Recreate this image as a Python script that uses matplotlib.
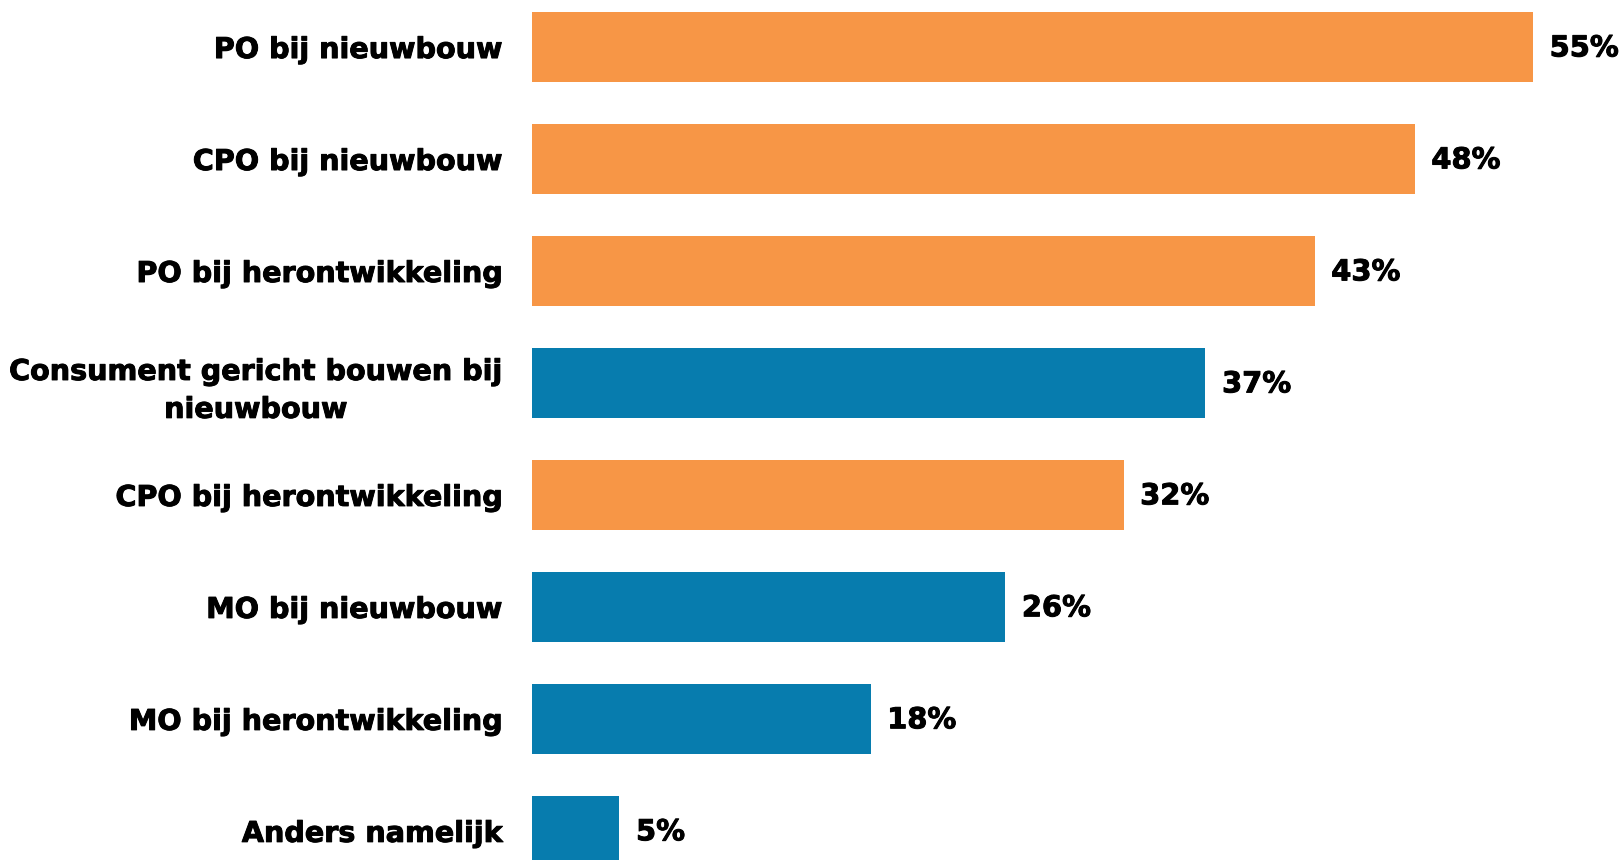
import matplotlib
matplotlib.use('Agg')
import matplotlib.pyplot as plt
import matplotlib.patheffects as pe

categories = [
    "PO bij nieuwbouw",
    "CPO bij nieuwbouw",
    "PO bij herontwikkeling",
    "Consument gericht bouwen bij\nnieuwbouw",
    "CPO bij herontwikkeling",
    "MO bij nieuwbouw",
    "MO bij herontwikkeling",
    "Anders namelijk",
]
values = [55, 48.5, 43, 37, 32.5, 26, 18.6, 4.8]
value_labels = ["55%", "48%", "43%", "37%", "32%", "26%", "18%", "5%"]
groups = ["o", "o", "o", "b", "o", "b", "b", "b"]

ORANGE = "#F79646"
BLUE = "#077CAE"
colors = [ORANGE if g == "o" else BLUE for g in groups]

# a thin outline makes DejaVu Bold look closer to the heavier original font
thick = [pe.withStroke(linewidth=0.7, foreground="black")]

W, H = 1624, 860
fig = plt.figure(figsize=(W / 100, H / 100), dpi=100)
ax = fig.add_axes([532 / W, 0, 1 - 532 / W, 1])

ypos = list(range(len(categories)))
ax.barh(ypos, values, height=0.625, color=colors)

for y, v, lab in zip(ypos, values, value_labels):
    ax.annotate(lab, (v, y), xytext=(12, -1), textcoords="offset points",
                va="center", ha="left", fontsize=20.8, fontweight="heavy",
                path_effects=thick)

ax.set_xlim(0, 60)
ax.set_ylim(7.26, -0.42)
ax.set_yticks(ypos)
ax.set_yticklabels(categories, fontsize=20.6, fontweight="heavy",
                   multialignment="center", linespacing=1.45)
for t in ax.get_yticklabels():
    t.set_path_effects(thick)
ax.tick_params(axis="y", length=0, pad=21)
ax.set_xticks([])
for s in ax.spines.values():
    s.set_visible(False)

fig.savefig("out.png", dpi=100)
